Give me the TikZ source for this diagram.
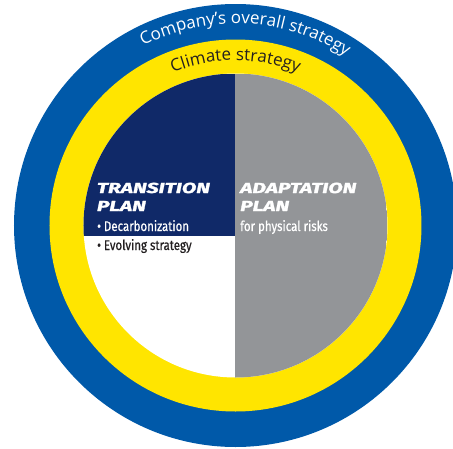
\documentclass[tikz,border=0pt]{standalone}
\usepackage{fontspec}
\setmainfont{Open Sans}
\newfontfamily\headfont[FakeStretch=1.45,FakeBold=2]{Fira Sans}
\newfontfamily\bodyfont[FakeStretch=0.82,FakeBold=0.6]{Fira Sans}
\usetikzlibrary{decorations.text}
\definecolor{ringBlue}{HTML}{0059A9}
\definecolor{ringYellow}{HTML}{FFE500}
\definecolor{planNavy}{HTML}{102968}
\definecolor{planGray}{HTML}{939598}
\definecolor{textDark}{HTML}{231F20}
\tikzset{
  planhead/.style={white, font=\headfont\bfseries\itshape\fontsize{14.5}{14.5}\selectfont},
  plannote/.style={font=\bodyfont\fontsize{14}{14}\selectfont}
}

\begin{document}
\begin{tikzpicture}[x=1pt, y=1pt, every node/.style={inner sep=0pt, anchor=base west}]
  \useasboundingbox (-235.5,-222.5) rectangle (217.5,225.5);
  \clip (-235.5,-222.5) rectangle (217.5,225.5);
  \fill[ringBlue] (0,0) circle (221.5);
  \fill[ringYellow] (0,0) circle (186);
  \fill[white] (0,0) circle (152);
  \begin{scope}
    \clip (0,0) circle (152);
    \fill[planNavy] (-152,-10.5) rectangle (0,152);
    \fill[planGray] (0,-152) rectangle (152,152);
  \end{scope}
  \path[decorate, decoration={text along path, text align=center, text color=white,
    text={|\fontsize{17}{17}\selectfont|Company’s overall strategy}}]
    (147:202) arc[start angle=147, end angle=27, radius=202];
  \path[decorate, decoration={text along path, text align=center, text color=textDark,
    text={|\fontsize{17}{17}\selectfont|Climate strategy}}]
    (135:165) arc[start angle=135, end angle=45, radius=165];
  \node[planhead] (transition) at (-138.8,32.5) {TRANSITION};
  \node[planhead] (transplan) at (-138.8,14.5) {PLAN};
  \node[plannote, white] (decarb) at (-138.5,-5.5) {\textbullet\ Decarbonization};
  \node[plannote, textDark] (evolving) at (-138.5,-24.5) {\textbullet\ Evolving strategy};
  \node[planhead] (adaptation) at (4.5,32.5) {ADAPTATION};
  \node[planhead] (adaptplan) at (4.5,14.5) {PLAN};
  \node[plannote, white] (physical) at (4.5,-5.5) {for physical risks};
\end{tikzpicture}
\end{document}
